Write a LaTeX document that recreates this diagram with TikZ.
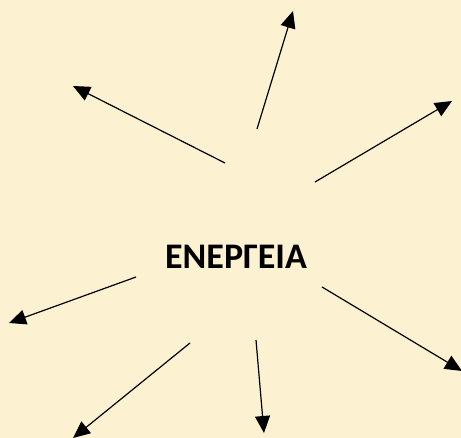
\documentclass[tikz,border=0pt]{standalone}
\usepackage{fontspec}
\setmainfont{Carlito}
\usetikzlibrary{arrows.meta}
\definecolor{bg}{RGB}{252,241,209}
\begin{document}
\begin{tikzpicture}[x=1pt,y=-1pt,
  ray/.style={line width=1.2pt,-{Triangle[length=17pt,width=15pt]}}]
\fill[bg] (0,0) rectangle (461,438);
\useasboundingbox (0,0) rectangle (461,438);
\node[font=\bfseries\fontsize{36}{40}\selectfont,inner sep=0pt] (c) at (236,257) {ΕΝΕΡΓΕΙΑ};
\coordinate (s1) at (257,129); \coordinate (t1) at (293,11);
\coordinate (s2) at (225,163); \coordinate (t2) at (73,86);
\coordinate (s3) at (315,182); \coordinate (t3) at (452,101);
\coordinate (s4) at (136,277); \coordinate (t4) at (9,323);
\coordinate (s5) at (322,287); \coordinate (t5) at (462,371);
\coordinate (s6) at (190,343); \coordinate (t6) at (73,438);
\coordinate (s7) at (256,340); \coordinate (t7) at (264,433);
\foreach \i in {1,...,7} \draw[ray] (s\i) -- (t\i);
\end{tikzpicture}
\end{document}
